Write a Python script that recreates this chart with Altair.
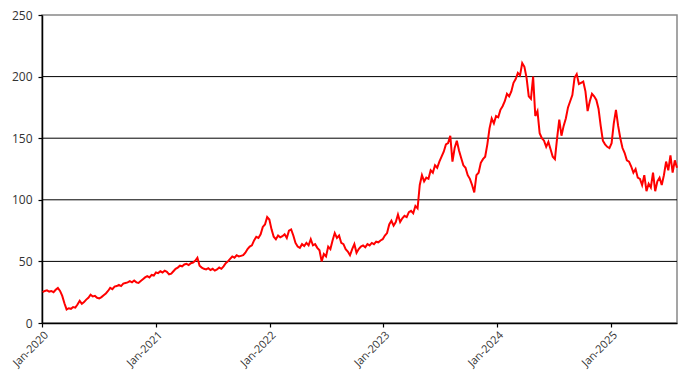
import altair as alt
import pandas as pd

# Weekly values (starting 2020-01-03)
values_2020 = [25, 26, 26.5, 25.5, 26, 25, 27, 28.5, 26, 22, 16, 11, 12,
               11.5, 13, 12.5, 15, 18, 15.5, 17, 19, 20.5, 23, 21.5, 22, 20.5,
               20, 21, 22.5, 24, 26, 28.5, 27.5, 29.5, 30, 31, 30, 32, 32.5,
               33, 34, 33, 34.5, 33, 32.5, 34, 35.5, 37, 38, 37, 39, 38.5]
values_2021 = [41, 40.5, 42, 41, 42.5, 41.5, 39.5, 40, 42, 44, 45, 46.5, 46,
               47.5, 48, 47, 48.5, 49, 50.5, 53, 46.5, 45, 44, 43.5, 44.5, 43,
               44, 42.5, 43.5, 45, 44, 46, 48.5, 50, 52, 54, 53, 55, 54,
               54.5, 55, 57, 60, 62, 63, 67, 70, 69, 72, 78, 80, 86]
values_2022 = [84, 76, 70, 68, 71, 69.5, 70.5, 72, 69, 75, 76, 71, 65,
               62, 61, 64, 62.5, 65, 63, 68, 63, 64, 61, 59, 50, 56,
               54, 62, 60, 67, 73, 69, 71, 65, 64, 60, 58, 55, 60,
               64, 57, 60, 62, 63, 61.5, 64, 63, 65, 64, 66, 65.5, 67]
values_2023 = [68, 71, 73, 80, 83, 79, 82, 88, 82, 85, 87, 86, 90,
               91, 89, 95, 93, 112, 120, 115, 118, 117, 124, 122, 128, 126,
               131, 135, 139, 145, 146, 152, 131, 142, 148, 140, 134, 128, 126,
               120, 117, 112, 106, 120, 122, 130, 133, 135, 145, 158, 166, 162]
values_2024 = [168, 167, 173, 176, 180, 186, 184, 188, 195, 198, 203, 201, 211,
               208, 199, 184, 182, 200, 168, 172, 154, 150, 148, 143, 147, 141,
               135, 133, 150, 165, 152, 160, 166, 175, 180, 185, 199, 202, 194,
               195, 196, 188, 172, 180, 186, 184, 181, 174, 160, 148, 145, 143]
values_2025 = [142, 146, 162, 173, 160, 150, 142, 138, 132, 131, 127, 122, 125,
               118, 117, 112, 120, 107, 113, 110, 122, 107, 115, 118, 112, 120,
               131, 124, 136, 122, 132, 126]

values = values_2020 + values_2021 + values_2022 + values_2023 + values_2024 + values_2025
dates = pd.date_range("2020-01-03", periods=len(values), freq="7D")
df = pd.DataFrame({"date": dates, "price": values})

grid_values = [50, 100, 150, 200]
y_ticks = [0, 50, 100, 150, 200, 250]
year_ticks = [2020, 2021, 2022, 2023, 2024, 2025]

x_scale = alt.Scale(domain=[alt.DateTime(year=2020, month=1, date=1),
                            alt.DateTime(year=2025, month=8, date=1)])
y_scale = alt.Scale(domain=[0, 250], nice=False)
y_axis = alt.Axis(values=y_ticks, grid=False, title=None, tickSize=4,
                  labelPadding=6, labelFontSize=12)

grid = alt.Chart(pd.DataFrame({"v": grid_values})).mark_rule(
    color="black", strokeWidth=1
).encode(y=alt.Y("v:Q", scale=y_scale, axis=y_axis, title=None))

line = alt.Chart(df).mark_line(color="#ff0000", strokeWidth=2).encode(
    x=alt.X("date:T", scale=x_scale,
            axis=alt.Axis(values=[alt.DateTime(year=y, month=1, date=1) for y in year_ticks],
                          format="%b-%Y", labelAngle=-45, labelAlign="right",
                          labelBaseline="top", title=None, grid=False,
                          tickSize=4, labelPadding=2, labelFontSize=11)),
    y=alt.Y("price:Q", scale=y_scale, axis=y_axis, title=None)
)

chart = alt.layer(grid, line).properties(
    width=635, height=308,
    padding={"left": 34, "top": 7, "right": 10, "bottom": 50},
    autosize=alt.AutoSizeParams(type="none"),
).configure_view(
    stroke="#888888", strokeWidth=1.5
).configure_axis(
    domainColor="black", domainWidth=1.5, tickColor="black", tickWidth=1.2,
    labelColor="#333333", labelFont="Open Sans"
)

chart.save("out.html", embed_options={"renderer": "svg", "actions": False})
